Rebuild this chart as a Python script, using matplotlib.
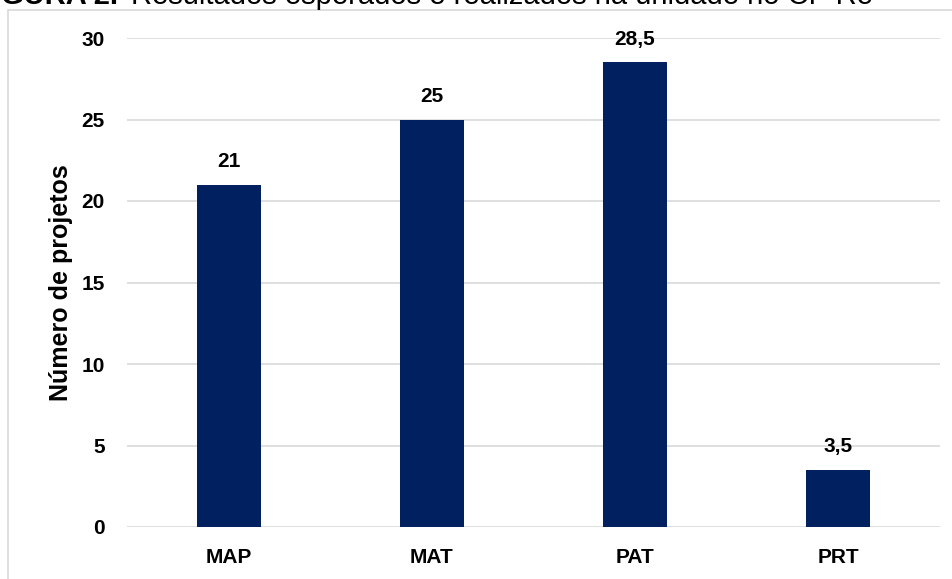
import matplotlib.pyplot as plt
from matplotlib.patches import Rectangle

# Projetos por categoria
categorias = ["MAP", "MAT", "PAT", "PRT"]
projetos = [21, 25, 28.5, 3.5]
rotulos = ["21", "25", "28,5", "3,5"]
yticks = [0, 5, 10, 15, 20, 25, 30]

plt.rcParams['font.family'] = ['Liberation Sans', 'DejaVu Sans']

fig = plt.figure(figsize=(9.53, 5.79), dpi=100)
fig.patch.set_facecolor("white")

# moldura cinza clara em volta do grafico
fig.patches.append(Rectangle((8 / 953, -0.01), 1.0, 1 - 10 / 579 + 0.01,
                             transform=fig.transFigure, fill=False,
                             edgecolor="#d9d9d9", linewidth=1.2))

# titulo cortado no topo
ty = 1 - 4 / 579
fig.text(118 / 953, ty, "FIGURA 2.", ha="right", va="baseline",
         fontsize=21, fontweight="bold")
fig.text(131 / 953, ty,
         "Resultados esperados e realizados na unidade no CP Re",
         ha="left", va="baseline", fontsize=21)

ax = fig.add_axes([127 / 953, 1 - 527 / 579, (940 - 127) / 953, (527 - 38) / 579])
x = range(len(categorias))
ax.bar(x, projetos, width=0.315, color="#002060", zorder=3)

for xi, v, r in zip(x, projetos, rotulos):
    ax.annotate(r, (xi, v), xytext=(0, 10), textcoords="offset points",
                ha="center", va="bottom", fontsize=15, fontweight="bold")

ax.set_xlim(-0.5, len(categorias) - 0.5)
ax.set_ylim(0, 30)
ax.set_yticks(yticks)
ax.set_xticks(list(x))
ax.set_xticklabels(categorias, fontsize=15, fontweight="bold")
ax.set_yticklabels([str(t) for t in yticks], fontsize=15, fontweight="bold")
ax.yaxis.grid(True, color="#d9d9d9", linewidth=1.2, zorder=0)
ax.tick_params(axis="both", length=0)
ax.tick_params(axis="y", pad=16)
ax.tick_params(axis="x", pad=15)
for s in ax.spines.values():
    s.set_visible(False)
ax.set_ylabel("Número de projetos", fontsize=18, fontweight="bold", labelpad=6)

fig.savefig("out.png", dpi=100)
